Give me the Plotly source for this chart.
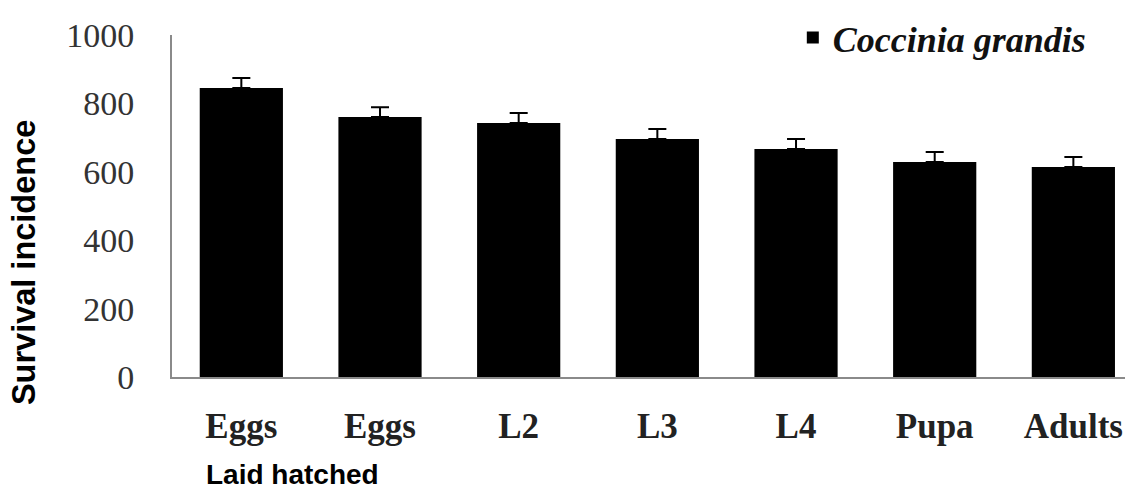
import plotly.graph_objects as go

stages = ["Eggs", "Eggs", "L2", "L3", "L4", "Pupa", "Adults"]
survival = [845, 760, 743, 696, 667, 629, 614]
error_plus = [29, 29, 29, 29, 29, 29, 29]
series_name = "Coccinia grandis"
y_ticks = [0, 200, 400, 600, 800, 1000]

positions = list(range(len(stages)))

fig = go.Figure()
fig.add_trace(go.Bar(
    x=positions,
    y=survival,
    name="<b><i>" + series_name + "</i></b>",
    marker=dict(color="black", line=dict(width=0)),
    width=0.6,
    error_y=dict(type="data", array=error_plus, arrayminus=[0] * len(stages),
                 symmetric=False, color="black", thickness=2, width=9),
    showlegend=True,
))

# the page body adds an 8px margin, so the figure is 8px smaller than the window
fig.update_layout(
    width=1125, height=480,
    margin=dict(l=164, r=0, t=27, b=111, autoexpand=False),
    paper_bgcolor="white", plot_bgcolor="white",
    showlegend=True,
    legend=dict(x=0.646, y=1.08, xanchor="left", yanchor="top",
                font=dict(family="Liberation Serif", size=36, color="#111"),
                bgcolor="rgba(0,0,0,0)", itemwidth=30, tracegroupgap=0),
    annotations=[
        dict(text="<b>Laid hatched</b>", xref="paper", yref="paper",
             x=0.033, y=-0.2865, xanchor="left", yanchor="middle",
             showarrow=False,
             font=dict(family="Liberation Sans", size=28, color="black")),
        dict(text="<b>Survival incidence</b>", xref="paper", yref="paper",
             x=-0.154, y=0.333, xanchor="center", yanchor="middle",
             textangle=-90, showarrow=False,
             font=dict(family="Liberation Sans", size=32.5, color="black")),
    ],
)

fig.update_xaxes(
    range=[-0.5, 6.43], automargin=False,
    tickvals=positions, ticktext=["<b>" + s + "</b>" for s in stages],
    tickfont=dict(family="Liberation Serif", size=35, color="#222"),
    showline=True, linecolor="#8a8a8a", linewidth=2,
    showgrid=False, zeroline=False, ticks="",
    ticklabelstandoff=17,
)
fig.update_yaxes(
    range=[0, 1000], automargin=False,
    tickvals=y_ticks,
    tickfont=dict(family="Liberation Serif", size=34, color="#333"),
    showline=True, linecolor="#8a8a8a", linewidth=2,
    showgrid=False, zeroline=False, ticks="",
    ticklabelstandoff=29,
)

fig.write_html("out.html")
